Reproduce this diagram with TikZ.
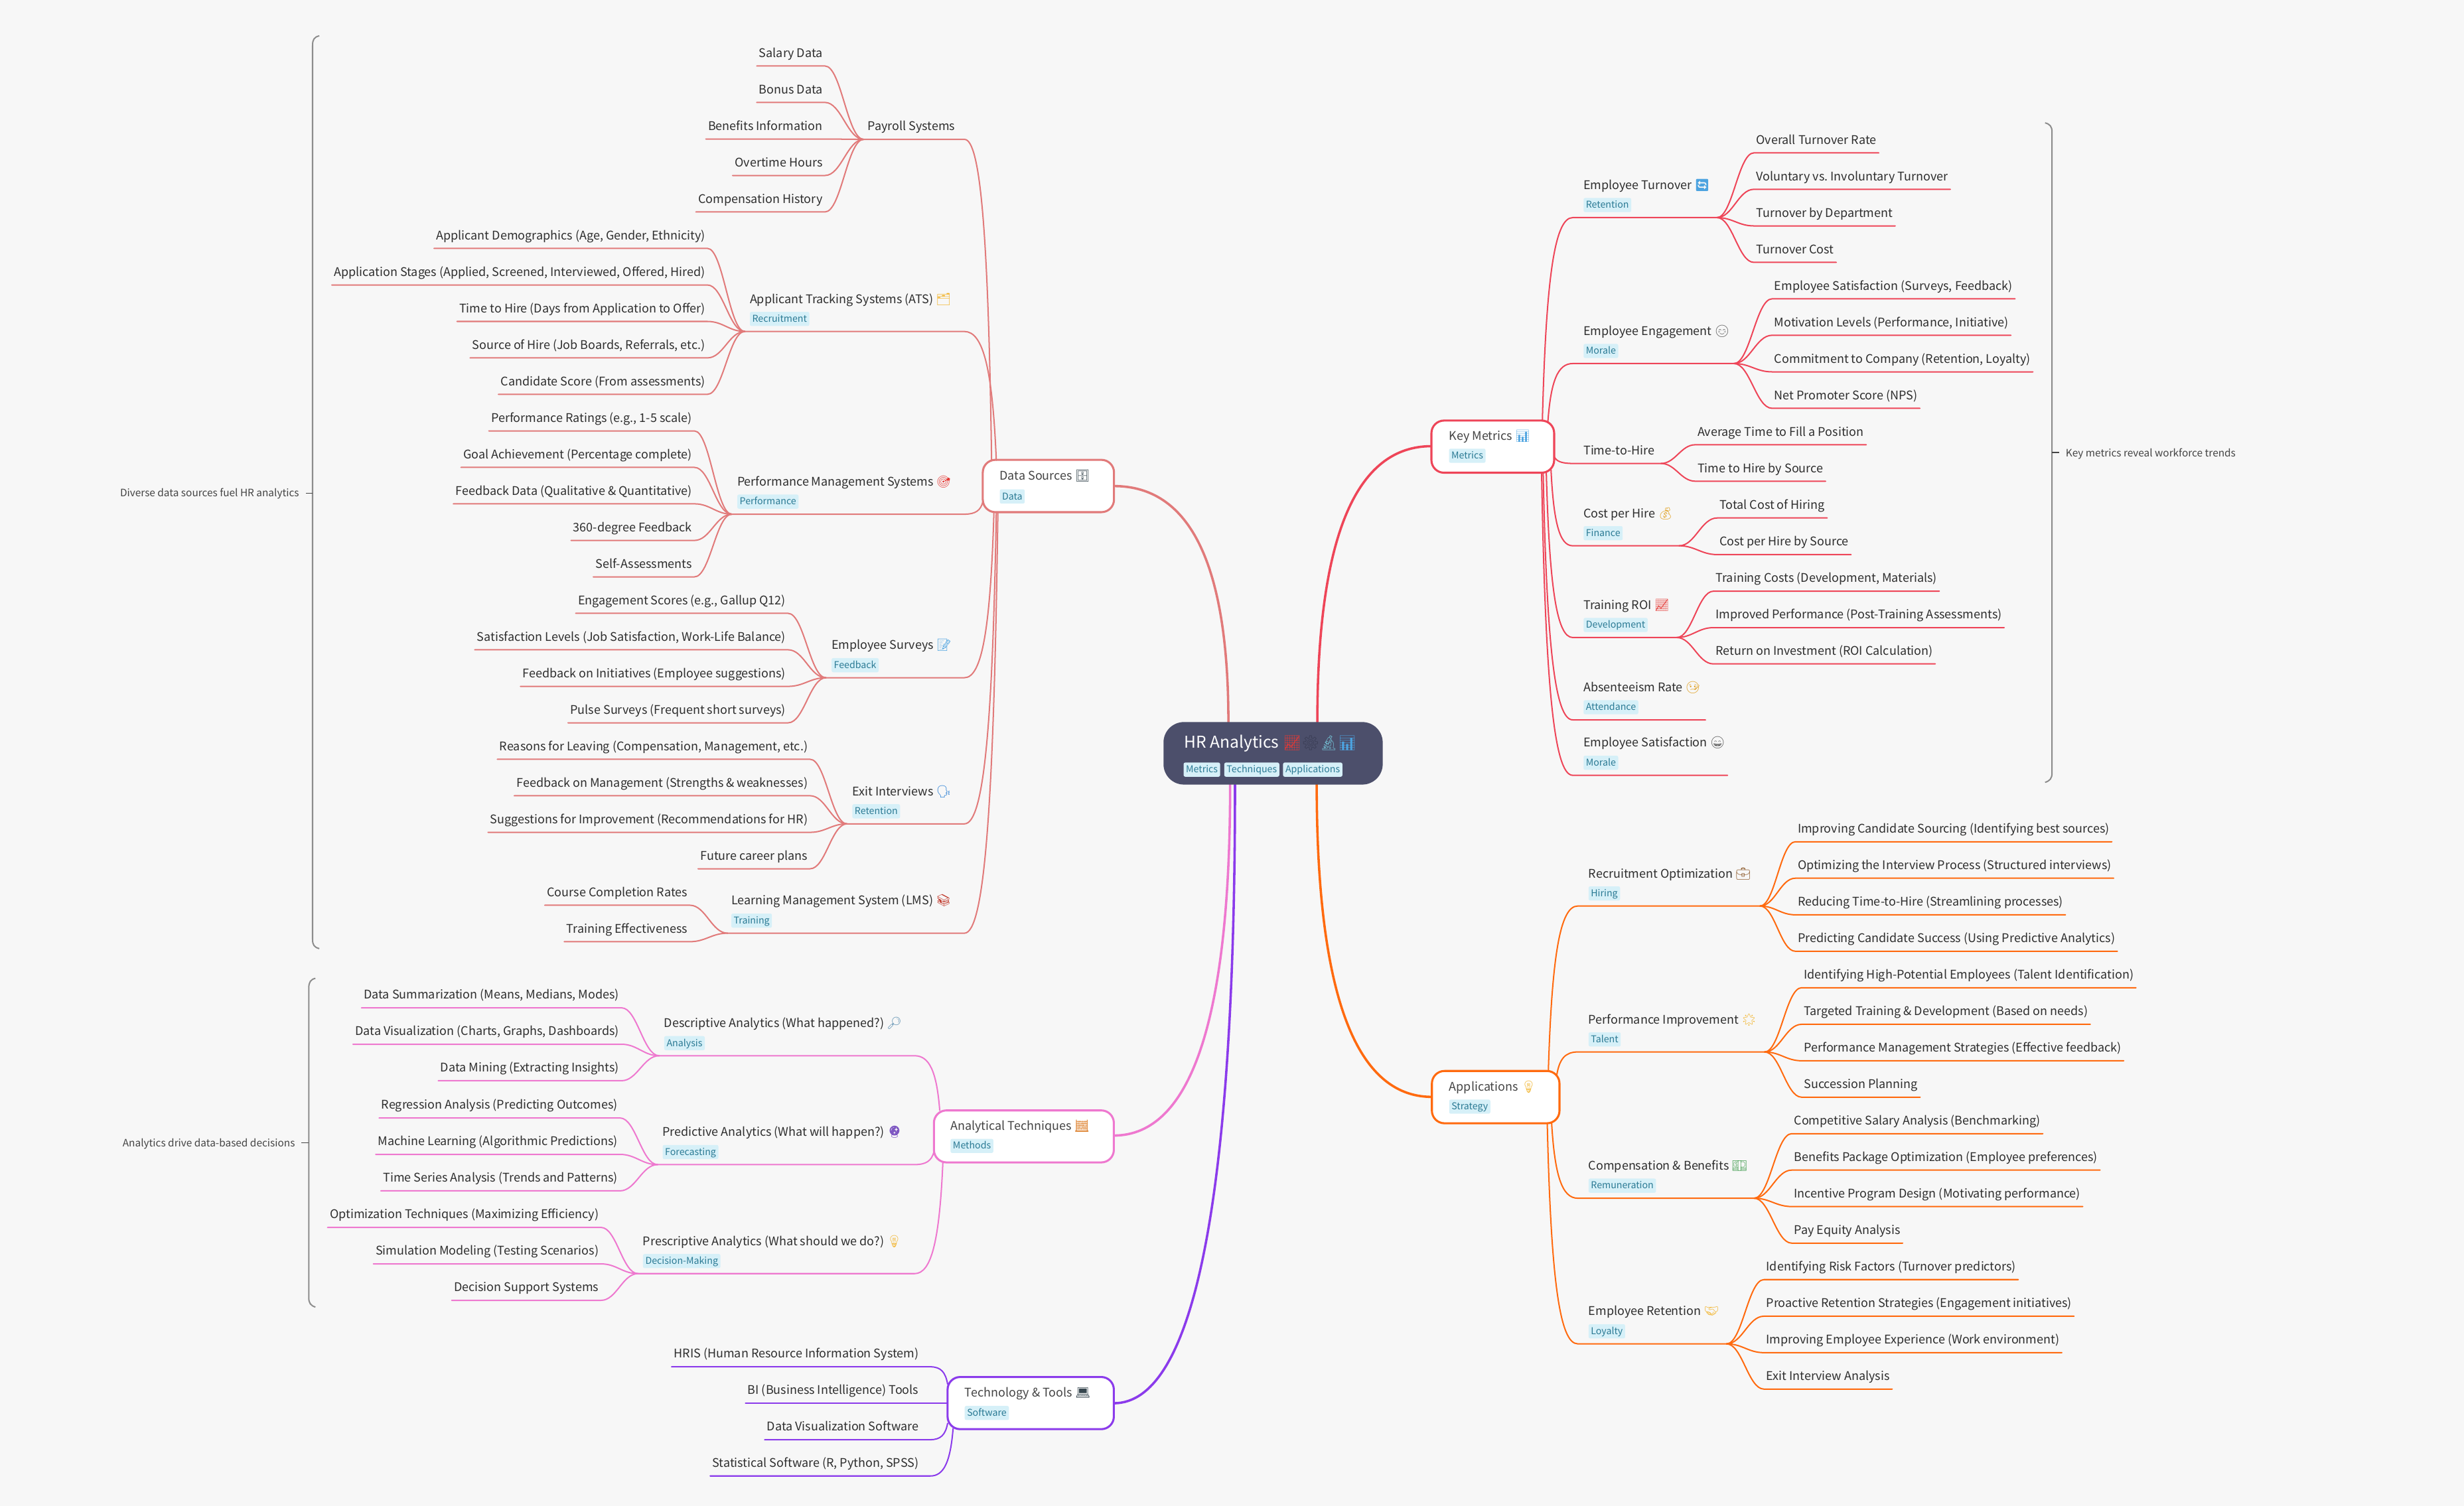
\documentclass[tikz,border=0pt]{standalone}
\usepackage{fontspec}
\usetikzlibrary{calc}
\setmainfont{Noto Sans CJK SC}
\newfontfamily\emofont{Noto Emoji}
\definecolor{cDS}{HTML}{E17A7A}
\definecolor{cKM}{HTML}{EE4558}
\definecolor{cAP}{HTML}{FF6A0F}
\definecolor{cAT}{HTML}{EE78CF}
\definecolor{cTT}{HTML}{8B3BEB}
\definecolor{bgc}{HTML}{F7F7F7}
\definecolor{rootc}{HTML}{4C4F6B}
\definecolor{tagbg}{HTML}{D6F0F8}
\definecolor{tagfg}{HTML}{2B7A94}
\definecolor{txt}{HTML}{2E2E2E}
\definecolor{mtxt}{HTML}{444444}
\definecolor{brc}{HTML}{8C8C8C}
\newcommand{\emo}[2]{{\emofont\color[HTML]{#1}#2}}
\tikzset{
  lf/.style={inner xsep=1.5,inner ysep=3.1,text height=6,text depth=2.5,text=txt,font=\fontsize{7.6}{10}\selectfont,outer sep=0},
  br/.style={inner sep=0,text=txt,font=\fontsize{7.6}{10}\selectfont,anchor=base west},
  mt/.style={inner sep=0,text=mtxt,font=\fontsize{7.6}{10}\selectfont,anchor=base west},
  tg/.style={fill=tagbg,text=tagfg,rounded corners=1,inner xsep=1.5,inner ysep=0,text height=5.6,text depth=1.6,minimum height=9,font=\fontsize{6}{8}\selectfont,anchor=west},
  wire/.style={line width=.85,line join=round,line cap=round},
  mainw/.style={line width=1.5,line cap=round},
  an/.style={inner sep=0,text=mtxt,font=\fontsize{6.5}{8}\selectfont},
  bracel/.style={draw=brc,line width=.85,line join=round},
  tick/.style={draw=mtxt,line width=.5},
}
% leaf on the left side / right side of its junction
\newcommand{\lleaf}[6]{% colour, id, text right x, underline y, junction, text
  \node[lf,anchor=south east] (#2) at (#3+1.5,#4) {#6};
  \draw[wire,#1] let \p1=(#5),\p2=(#2.south east) in (\p1) .. controls ({\x1+0.42*(\x2-\x1)},\y1) and ({\x1+0.58*(\x2-\x1)},\y2) .. (\p2) -- (#2.south west);
}
\newcommand{\rleaf}[6]{%
  \node[lf,anchor=south west] (#2) at (#3-1.5,#4) {#6};
  \draw[wire,#1] let \p1=(#5),\p2=(#2.south west) in (\p1) .. controls ({\x1+0.42*(\x2-\x1)},\y1) and ({\x1+0.58*(\x2-\x1)},\y2) .. (\p2) -- (#2.south east);
}
% parent -> bend -> end, near-vertical then turning horizontal
\newcommand{\link}[4]{% colour, start, bend x, end
  \draw[wire,#1] let \p1=(#2),\p2=(#3,0),\p3=(#4) in (\p1) .. controls ({\x1+0.12*(\x2-\x1)},{\y1+0.7*(\y3-\y1)}) and ({\x1+0.4*(\x2-\x1)},\y3) .. (\x2,\y3) -- (\p3);
}
% quadratic root connector
\newcommand{\qlink}[3]{% colour, start, end
  \draw[mainw,#1] let \p1=(#2),\p2=(#3) in (\p1) .. controls (\x1,{\y1+0.667*(\y2-\y1)}) and ({\x2+0.667*(\x1-\x2)},\y2) .. (\p2);
}
% branch: colour,id,text x,underline y,junction x,bend x,start,text,tag
\newcommand{\branch}[9]{%
  \coordinate (#2j) at (#5,#4);
  \node[br] (#2) at (#3,#4-18) {#8};
  \node[tg] (#2tag) at (#3,#4-8) {#9};
  \link{#1}{#7}{#6}{#2j}
}
\newcommand{\ubranch}[8]{%
  \coordinate (#2j) at (#5,#4);
  \node[br] (#2) at (#3,#4-5.6) {#8};
  \link{#1}{#7}{#6}{#2j}
}
\newcommand{\mainbox}[6]{% colour,id,x1,y1,x2,y2
  \node[draw=#1,fill=white,line width=1.3,rounded corners=8,inner sep=0,outer sep=0,minimum width={#5-#3},minimum height={#6-#4}] (#2) at ({(#3+#5)/2},{(#4+#6)/2}) {};
}
\begin{document}
\frenchspacing
\begin{tikzpicture}[x=1pt,y=-1pt]
\useasboundingbox (0,0) rectangle (1568,958.6);
\fill[bgc] (0,0) rectangle (1568,958.6);

% root connectors
\coordinate (r1) at (781.7,459.6);
\coordinate (r2) at (838.3,459.6);
\coordinate (r3) at (782.8,499.4);
\coordinate (r4) at (785.9,499.4);
\coordinate (r5) at (837.9,499.4);
\coordinate (dsin) at (708.9,309.4);
\coordinate (kmin) at (910.9,284);
\coordinate (atin) at (708.8,722.8);
\coordinate (ttin) at (708.8,893.2);
\coordinate (apin) at (911.2,698.2);
\qlink{cDS}{r1}{dsin}
\qlink{cKM}{r2}{kmin}
\qlink{cAT}{r3}{atin}
\qlink{cTT}{r4}{ttin}
\qlink{cAP}{r5}{apin}

% main boxes
\node[fill=rootc,rounded corners=13,inner sep=0,outer sep=0,minimum width=139.5,minimum height=39.8] (root) at (810.15,479.5) {};
\mainbox{cDS}{ds}{625.4}{292.7}{708.9}{326}
\mainbox{cAT}{at}{594.3}{706.8}{708.8}{739.9}
\mainbox{cTT}{tt}{603}{876.5}{708.8}{909.7}
\mainbox{cKM}{km}{910.9}{267.7}{989}{300.9}
\mainbox{cAP}{ap}{911.2}{681.7}{992.4}{715}

% root texts
\node[inner sep=0,text=white,font=\fontsize{10.4}{12}\selectfont,anchor=base west] (roottxt) at (753.4,476) {HR Analytics\kern2.5pt{\fontsize{9.2}{12}\selectfont\emo{E53935}{📈}\emo{3A3D55}{⚙}\emo{6FB3C8}{🔬}\emo{4CA3E0}{📊}}};
\node[tg] (roott1) at (753,489.9) {Metrics};
\node[tg] (roott2) at (778.9,489.9) {Techniques};
\node[tg] (roott3) at (816.3,489.9) {Applications};

% ---- Data Sources
\node[mt] (dst) at (636,305.5) {Data Sources \emo{37474F}{🗄}};
\node[tg] (dstag) at (636,316) {Data};
\coordinate (ds1) at (631,293);
\coordinate (ds2) at (634,293);
\coordinate (ds3) at (625.4,319.5);
\coordinate (ds4) at (632.5,326);
\coordinate (ds5) at (634,326);
\coordinate (ds6) at (635,326);
\ubranch{cDS}{pay}{552}{88.7}{549.6}{613.7}{ds1}{Payroll Systems}
\branch{cDS}{ats}{477}{211}{474}{613.7}{ds2}{Applicant Tracking Systems (ATS) \emo{F2B632}{🗂}}{Recruitment}
\branch{cDS}{pms}{469}{327.3}{465.7}{613.7}{ds3}{Performance Management Systems \emo{E53935}{🎯}}{Performance}
\branch{cDS}{sur}{529}{431.4}{525.6}{613.7}{ds4}{Employee Surveys \emo{4CA3E0}{📝}}{Feedback}
\branch{cDS}{ext}{542.2}{524.4}{539}{613.7}{ds5}{Exit Interviews \emo{1976D2}{🗣}}{Retention}
\branch{cDS}{lms}{465.2}{594}{463}{613.7}{ds6}{Learning Management System (LMS) \emo{C0392B}{📚}}{Training}

\lleaf{cDS}{p1}{523.5}{42}{payj}{Salary Data}
\lleaf{cDS}{p2}{523.5}{65.2}{payj}{Bonus Data}
\lleaf{cDS}{p3}{523.5}{88.5}{payj}{Benefits Information}
\lleaf{cDS}{p4}{523.5}{111.7}{payj}{Overtime Hours}
\lleaf{cDS}{p5}{523.5}{134.9}{payj}{Compensation History}
\lleaf{cDS}{a1}{448.7}{158.1}{atsj}{Applicant Demographics (Age, Gender, Ethnicity)}
\lleaf{cDS}{a2}{448.7}{181.4}{atsj}{Application Stages (Applied, Screened, Interviewed, Offered, Hired)}
\lleaf{cDS}{a3}{448.7}{204.6}{atsj}{Time to Hire (Days from Application to Offer)}
\lleaf{cDS}{a4}{448.7}{227.8}{atsj}{Source of Hire (Job Boards, Referrals, etc.)}
\lleaf{cDS}{a5}{448.7}{251}{atsj}{Candidate Score (From assessments)}
\lleaf{cDS}{m1}{440.4}{274.3}{pmsj}{Performance Ratings (e.g., 1-5 scale)}
\lleaf{cDS}{m2}{440.4}{297.5}{pmsj}{Goal Achievement (Percentage complete)}
\lleaf{cDS}{m3}{440.4}{320.7}{pmsj}{Feedback Data (Qualitative \& Quantitative)}
\lleaf{cDS}{m4}{440.4}{344}{pmsj}{360-degree Feedback}
\lleaf{cDS}{m5}{440.4}{367.2}{pmsj}{Self-Assessments}
\lleaf{cDS}{s1}{500}{390.4}{surj}{Engagement Scores (e.g., Gallup Q12)}
\lleaf{cDS}{s2}{500}{413.6}{surj}{Satisfaction Levels (Job Satisfaction, Work-Life Balance)}
\lleaf{cDS}{s3}{500}{436.9}{surj}{Feedback on Initiatives (Employee suggestions)}
\lleaf{cDS}{s4}{500}{460.1}{surj}{Pulse Surveys (Frequent short surveys)}
\lleaf{cDS}{e1}{514}{483.3}{extj}{Reasons for Leaving (Compensation, Management, etc.)}
\lleaf{cDS}{e2}{514}{506.5}{extj}{Feedback on Management (Strengths \& weaknesses)}
\lleaf{cDS}{e3}{514}{529.8}{extj}{Suggestions for Improvement (Recommendations for HR)}
\lleaf{cDS}{e4}{514}{553}{extj}{Future career plans}
\lleaf{cDS}{l1}{437.5}{576.2}{lmsj}{Course Completion Rates}
\lleaf{cDS}{l2}{437.5}{599.4}{lmsj}{Training Effectiveness}

% ---- Analytical Techniques
\node[mt] (att) at (604.7,719.5) {Analytical Techniques \emo{E08A3C}{🧮}};
\node[tg] (attag) at (604.7,729.4) {Methods};
\coordinate (at1) at (598,706.8);
\coordinate (at2) at (594.3,733.2);
\coordinate (at3) at (600,739.9);
\branch{cAT}{des}{422.5}{672}{419.5}{582}{at1}{Descriptive Analytics (What happened?) \emo{5C8FB0}{🔎}}{Analysis}
\branch{cAT}{pre}{421.5}{741.3}{418.5}{582}{at2}{Predictive Analytics (What will happen?) \emo{7E57C2}{🔮}}{Forecasting}
\branch{cAT}{pcr}{409}{810.7}{406}{582}{at3}{Prescriptive Analytics (What should we do?) \emo{F2B632}{💡}}{Decision-Making}
\lleaf{cAT}{d1}{394}{641.5}{desj}{Data Summarization (Means, Medians, Modes)}
\lleaf{cAT}{d2}{394}{664.7}{desj}{Data Visualization (Charts, Graphs, Dashboards)}
\lleaf{cAT}{d3}{394}{687.9}{desj}{Data Mining (Extracting Insights)}
\lleaf{cAT}{f1}{393}{711.6}{prej}{Regression Analysis (Predicting Outcomes)}
\lleaf{cAT}{f2}{393}{734.8}{prej}{Machine Learning (Algorithmic Predictions)}
\lleaf{cAT}{f3}{393}{758}{prej}{Time Series Analysis (Trends and Patterns)}
\lleaf{cAT}{c1}{381}{781.3}{pcrj}{Optimization Techniques (Maximizing Efficiency)}
\lleaf{cAT}{c2}{381}{804.5}{pcrj}{Simulation Modeling (Testing Scenarios)}
\lleaf{cAT}{c3}{381}{827.7}{pcrj}{Decision Support Systems}

% ---- Technology & Tools
\node[mt] (ttt) at (613.8,889.2) {Technology \& Tools \emo{37474F}{💻}};
\node[tg] (tttag) at (613.7,899.4) {Software};
\coordinate (tt1) at (603,881);
\coordinate (tt2) at (603,893.2);
\coordinate (tt3) at (603,906);
\coordinate (tt4) at (606.5,909.4);
\node[lf,anchor=south east] (t1) at (586.1,870) {HRIS (Human Resource Information System)};
\node[lf,anchor=south east] (t2) at (586.1,893.2) {BI (Business Intelligence) Tools};
\node[lf,anchor=south east] (t3) at (586.1,916.4) {Data Visualization Software};
\node[lf,anchor=south east] (t4) at (586.1,939.5) {Statistical Software (R, Python, SPSS)};
\link{cTT}{tt1}{592}{t1.south west}
\draw[wire,cTT] (tt2) -- (t2.south west);
\link{cTT}{tt3}{592}{t3.south west}
\link{cTT}{tt4}{592}{t4.south west}

% ---- Key Metrics
\node[mt] (kmt) at (921.9,280) {Key Metrics \emo{4CA3E0}{📊}};
\node[tg] (kmtag) at (921.9,290.1) {Metrics};
\coordinate (k1) at (981.5,267.7);
\coordinate (k2) at (985,268.5);
\coordinate (k3) at (989,290.6);
\coordinate (k4) at (987,299);
\coordinate (k5) at (984,300.9);
\coordinate (k6) at (982,300.9);
\coordinate (k7) at (981,300.9);
\branch{cKM}{tur}{1007.5}{138.5}{1092.6}{1000.8}{k1}{Employee Turnover \emo{4CA3E0}{🔄}}{Retention}
\branch{cKM}{eng}{1007.5}{231.4}{1103.4}{1000.8}{k2}{Employee Engagement \emo{555555}{😊}}{Morale}
\ubranch{cKM}{tth}{1007.5}{295}{1057}{1000.8}{k3}{Time-to-Hire}
\branch{cKM}{cph}{1007.5}{347.4}{1068.5}{1000.8}{k4}{Cost per Hire \emo{E0A020}{💰}}{Finance}
\branch{cKM}{roi}{1007.5}{405.8}{1067}{1000.8}{k5}{Training ROI \emo{E53935}{📈}}{Development}
\branch{cKM}{abs}{1007.5}{458.2}{1085.3}{1000.8}{k6}{Absenteeism Rate \emo{E0A020}{🤒}}{Attendance}
\branch{cKM}{sat}{1007.5}{493.5}{1099.3}{1000.8}{k7}{Employee Satisfaction \emo{555555}{😄}}{Morale}
\rleaf{cKM}{k11}{1117.6}{97.3}{turj}{Overall Turnover Rate}
\rleaf{cKM}{k12}{1117.6}{120.5}{turj}{Voluntary vs. Involuntary Turnover}
\rleaf{cKM}{k13}{1117.6}{143.8}{turj}{Turnover by Department}
\rleaf{cKM}{k14}{1117.6}{167}{turj}{Turnover Cost}
\rleaf{cKM}{k21}{1129.2}{190.2}{engj}{Employee Satisfaction (Surveys, Feedback)}
\rleaf{cKM}{k22}{1129.2}{213.4}{engj}{Motivation Levels (Performance, Initiative)}
\rleaf{cKM}{k23}{1129.2}{236.7}{engj}{Commitment to Company (Retention, Loyalty)}
\rleaf{cKM}{k24}{1129.2}{259.9}{engj}{Net Promoter Score (NPS)}
\rleaf{cKM}{k31}{1080.3}{283.1}{tthj}{Average Time to Fill a Position}
\rleaf{cKM}{k32}{1080.3}{306.3}{tthj}{Time to Hire by Source}
\rleaf{cKM}{k41}{1094.2}{329.7}{cphj}{Total Cost of Hiring}
\rleaf{cKM}{k42}{1094.2}{353}{cphj}{Cost per Hire by Source}
\rleaf{cKM}{k51}{1091.9}{376.3}{roij}{Training Costs (Development, Materials)}
\rleaf{cKM}{k52}{1091.9}{399.5}{roij}{Improved Performance (Post-Training Assessments)}
\rleaf{cKM}{k53}{1091.9}{422.6}{roij}{Return on Investment (ROI Calculation)}

% ---- Applications
\node[mt] (apt) at (922,694.5) {Applications \emo{F2B632}{💡}};
\node[tg] (aptag) at (922,704.4) {Strategy};
\coordinate (ap1) at (985.3,681.7);
\coordinate (ap2) at (990.6,684.8);
\coordinate (ap3) at (987.4,715);
\coordinate (ap4) at (984.6,715);
\branch{cAP}{rec}{1010.7}{576.7}{1120}{1004}{ap1}{Recruitment Optimization \emo{8D5A2B}{💼}}{Hiring}
\branch{cAP}{imp}{1010.7}{669.6}{1122.9}{1004}{ap2}{Performance Improvement \emo{F2B632}{🌟}}{Talent}
\branch{cAP}{cmp}{1010.7}{762.7}{1116.2}{1004}{ap3}{Compensation \& Benefits \emo{3C9A4A}{💵}}{Remuneration}
\branch{cAP}{ret}{1010.7}{855.4}{1098.7}{1004}{ap4}{Employee Retention \emo{F2B632}{🤝}}{Loyalty}
\rleaf{cAP}{x11}{1144}{535.8}{recj}{Improving Candidate Sourcing (Identifying best sources)}
\rleaf{cAP}{x12}{1144}{559}{recj}{Optimizing the Interview Process (Structured interviews)}
\rleaf{cAP}{x13}{1144}{582.3}{recj}{Reducing Time-to-Hire (Streamlining processes)}
\rleaf{cAP}{x14}{1144}{605.5}{recj}{Predicting Candidate Success (Using Predictive Analytics)}
\rleaf{cAP}{x21}{1148}{628.7}{impj}{Identifying High-Potential Employees (Talent Identification)}
\rleaf{cAP}{x22}{1148}{652}{impj}{Targeted Training \& Development (Based on needs)}
\rleaf{cAP}{x23}{1148}{675.2}{impj}{Performance Management Strategies (Effective feedback)}
\rleaf{cAP}{x24}{1148}{698.4}{impj}{Succession Planning}
\rleaf{cAP}{x31}{1141.7}{721.6}{cmpj}{Competitive Salary Analysis (Benchmarking)}
\rleaf{cAP}{x32}{1141.7}{744.8}{cmpj}{Benefits Package Optimization (Employee preferences)}
\rleaf{cAP}{x33}{1141.7}{768}{cmpj}{Incentive Program Design (Motivating performance)}
\rleaf{cAP}{x34}{1141.7}{791.3}{cmpj}{Pay Equity Analysis}
\rleaf{cAP}{x41}{1124}{814.5}{retj}{Identifying Risk Factors (Turnover predictors)}
\rleaf{cAP}{x42}{1124}{837.8}{retj}{Proactive Retention Strategies (Engagement initiatives)}
\rleaf{cAP}{x43}{1124}{861}{retj}{Improving Employee Experience (Work environment)}
\rleaf{cAP}{x44}{1124}{884.2}{retj}{Exit Interview Analysis}

% ---- summary braces
\draw[bracel] (1301.4,78.2) .. controls (1304.5,79) and (1305.8,80.5) .. (1305.8,84) -- (1305.8,492) .. controls (1305.8,495.5) and (1304.5,497) .. (1301.4,498);
\coordinate (b1a) at (1305.8,288);
\coordinate (b1b) at (1310.4,288);
\draw[tick] (b1a) -- (b1b);
\node[an,anchor=west] (b1t) at (1314.4,289) {Key metrics reveal workforce trends};

\draw[bracel] (203.2,22.8) .. controls (200,23.6) and (198.9,25) .. (198.9,29) -- (198.9,598) .. controls (198.9,601.5) and (200,603) .. (203.2,603.8);
\coordinate (b2a) at (198.9,314);
\coordinate (b2b) at (194.5,314);
\draw[tick] (b2a) -- (b2b);
\node[an,anchor=east] (b2t) at (190.5,314.4) {Diverse data sources fuel HR analytics};

\draw[bracel] (200.7,622.7) .. controls (197.7,623.5) and (196.5,625) .. (196.5,629) -- (196.5,826) .. controls (196.5,829.5) and (197.7,831) .. (200.7,832);
\coordinate (b3a) at (196.5,727.5);
\coordinate (b3b) at (191.9,727.5);
\draw[tick] (b3a) -- (b3b);
\node[an,anchor=east] (b3t) at (187.9,728) {Analytics drive data-based decisions};
\end{tikzpicture}
\end{document}
